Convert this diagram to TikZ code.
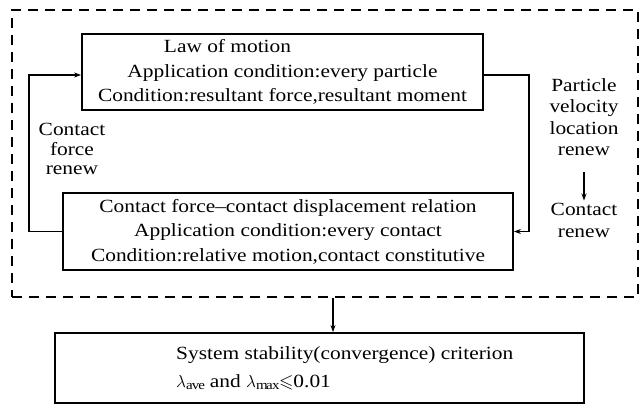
\documentclass[tikz,border=0pt]{standalone}
\usepackage{fontspec}
\usepackage{amssymb}
\setmainfont[FakeStretch=1.15]{Liberation Serif}
\usetikzlibrary{arrows.meta,positioning}

\tikzset{
  block/.style={draw, line width=1.8pt, inner sep=0pt, align=center,
    font=\fontsize{18.6}{24.5}\selectfont},
  group/.style={draw, line width=1.7pt, dash pattern=on 10pt off 7pt},
  flow/.style={line width=1.3pt, -{Stealth[length=7pt,width=5pt]}},
  note/.style={align=center, inner sep=2pt, font=\fontsize{18.6}{19.5}\selectfont},
}

\begin{document}
\begin{tikzpicture}[x=1pt,y=-1pt]
  \useasboundingbox (0,0) rectangle (643,404);

  % dashed frame round the iteration loop
  \node[group, minimum width=626pt, minimum height=287pt] (loop) at (325,153.5) {};

  \node[block, minimum width=401pt, minimum height=76pt] (motion) at (282.5,72)
    {Law of motion\hspace*{110pt}\\
     Application condition:every particle\\
     Condition:resultant force,resultant moment};
  \node[block, minimum width=450pt, minimum height=77pt] (contact) at (288,231.5)
    {Contact force--contact displacement relation\\
     Application condition:every contact\\
     Condition:relative motion,contact constitutive};

  \node[note] (cfr) at (72,149) {Contact\\force\\renew};
  \node[note, font=\fontsize{18.6}{21.5}\selectfont] (pvl) at (584,117) {Particle\\velocity\\location\\renew};
  \node[note, font=\fontsize{18.6}{22}\selectfont] (cr) at (584,220) {Contact\\renew};

  % convergence check
  \node[block, minimum width=529pt, minimum height=70pt] (crit) at (319.5,368) {};
  \node[anchor=west, align=left, inner sep=0pt, font=\fontsize{18.6}{24}\selectfont] (rule) at (176,368)
    {System stability(convergence) criterion\\[4pt]
     $\lambda_{\mathrm{ave}}$ and $\lambda_{\max}{\leqslant}$0.01};

  \draw[flow] (contact.west) -- ++(-33,0) |- ([yshift=-3pt]motion.west);
  \draw[flow] ([yshift=-3pt]motion.east) -- ++(45,0) |- (contact.east);
  \draw[flow, shorten <=14pt] (pvl.south) -- (cr.north);
  \draw[flow] ([xshift=8pt]loop.south) -- ([xshift=8pt]loop.south |- crit.north);
\end{tikzpicture}
\end{document}
